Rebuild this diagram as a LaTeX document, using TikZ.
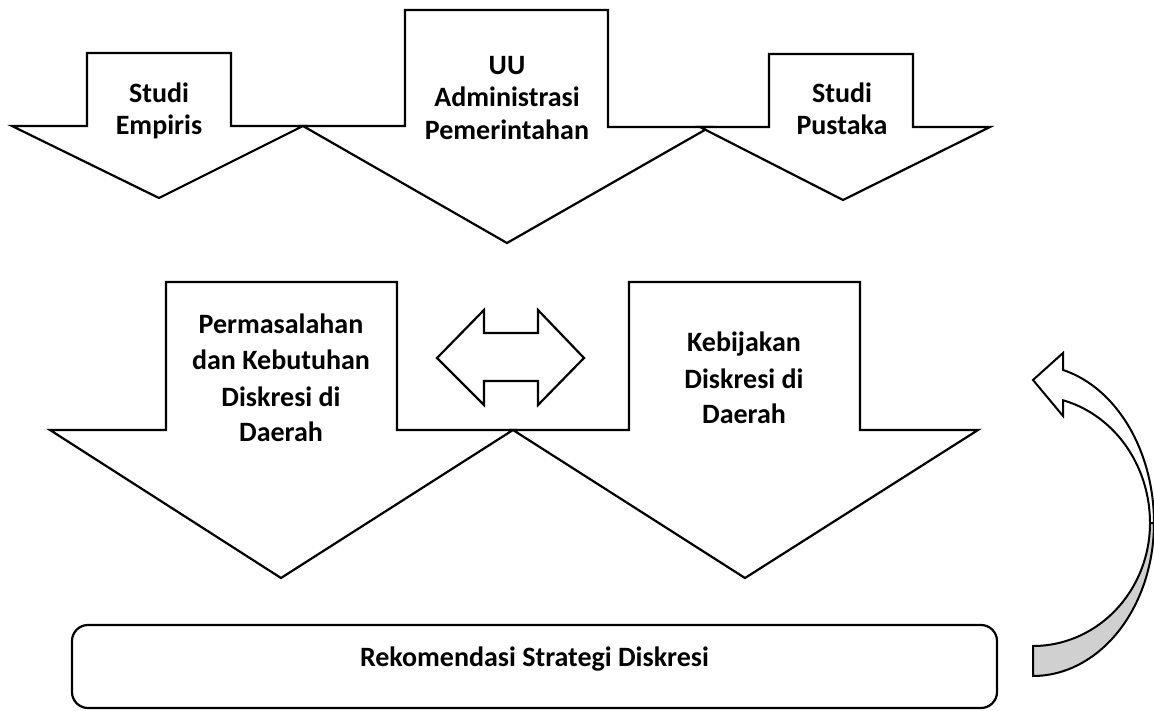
\documentclass[tikz,border=0pt]{standalone}
\usepackage{fontspec}
\setmainfont{Carlito}
\definecolor{bandgray}{RGB}{208,208,208}
\begin{document}
\begin{tikzpicture}[x=1pt,y=-1pt,
  blockarrow/.style={draw=black,fill=white,line width=2.2pt,line join=miter},
  lbl/.style={anchor=base,inner sep=0pt,font=\fontsize{28}{34}\selectfont\bfseries},
  roundbox/.style={draw=black,line width=2.2pt,rounded corners=16pt,inner sep=0pt,
    minimum width=925pt,minimum height=83pt,text height=10pt,text depth=10pt,
    font=\fontsize{28}{34}\selectfont\bfseries}]
\useasboundingbox (0,0) rectangle (1154,711);

% top row of down arrows
\draw[blockarrow] (87,53) -- (231,53) -- (231,126) -- (303,126) -- (159,198) -- (12,126) -- (87,126) -- cycle;
\draw[blockarrow] (405,10) -- (608,10) -- (608,127) -- (710,127) -- (507,243) -- (303,126) -- (405,126) -- cycle;
\draw[blockarrow] (769,54) -- (913,54) -- (913,127) -- (990,127) -- (843,200) -- (700,127) -- (769,127) -- cycle;

\node[lbl] (se1) at (159,103) {Studi};
\node[lbl] (se2) at (159,135) {Empiris};
\node[lbl] (uu1) at (507,75) {UU};
\node[lbl] (uu2) at (507,107) {Administrasi};
\node[lbl] (uu3) at (507,140) {Pemerintahan};
\node[lbl] (sp1) at (842,103) {Studi};
\node[lbl] (sp2) at (842,135) {Pustaka};

% middle row of big down arrows
\draw[blockarrow] (166,282) -- (397,282) -- (397,430) -- (513,430) -- (281,578) -- (50,430) -- (166,430) -- cycle;
\draw[blockarrow] (629,282) -- (860,282) -- (860,430) -- (978,430) -- (745,578) -- (513,430) -- (629,430) -- cycle;

\node[lbl] (pm1) at (281,334) {Permasalahan};
\node[lbl] (pm2) at (281,370) {dan Kebutuhan};
\node[lbl] (pm3) at (281,406) {Diskresi di};
\node[lbl] (pm4) at (281,441) {Daerah};
\node[lbl] (kb1) at (744,352) {Kebijakan};
\node[lbl] (kb2) at (744,388) {Diskresi di};
\node[lbl] (kb3) at (744,423) {Daerah};

% double-headed arrow
\draw[blockarrow] (437,358) -- (484,310) -- (484,333) -- (538,333) -- (538,310) -- (584,358)
  -- (538,405) -- (538,381) -- (484,381) -- (484,405) -- cycle;

% bottom box
\node[roundbox] (rek) at (534.5,666.5) {Rekomendasi Strategi Diskresi};

% curved arrow (back side, grey)
\draw[line width=2pt,fill=bandgray,line join=miter]
  plot[domain=0:-90,samples=40,smooth] ({1033+121*cos(\x)},{523-153*sin(\x)})
  -- plot[domain=-90:0,samples=40,smooth] ({1033+117*cos(\x)},{523-123*sin(\x)}) -- cycle;
% curved arrow (front side, white, with head)
\draw[line width=2pt,fill=white,line join=miter]
  plot[domain=0:75.6,samples=40,smooth] ({1033+121*cos(\x)},{523-158*sin(\x)})
  -- (1063,353) -- (1033,380) -- (1063,416)
  -- plot[domain=75.1:0,samples=40,smooth] ({1033+117*cos(\x)},{523-127*sin(\x)}) -- cycle;
\end{tikzpicture}
\end{document}
